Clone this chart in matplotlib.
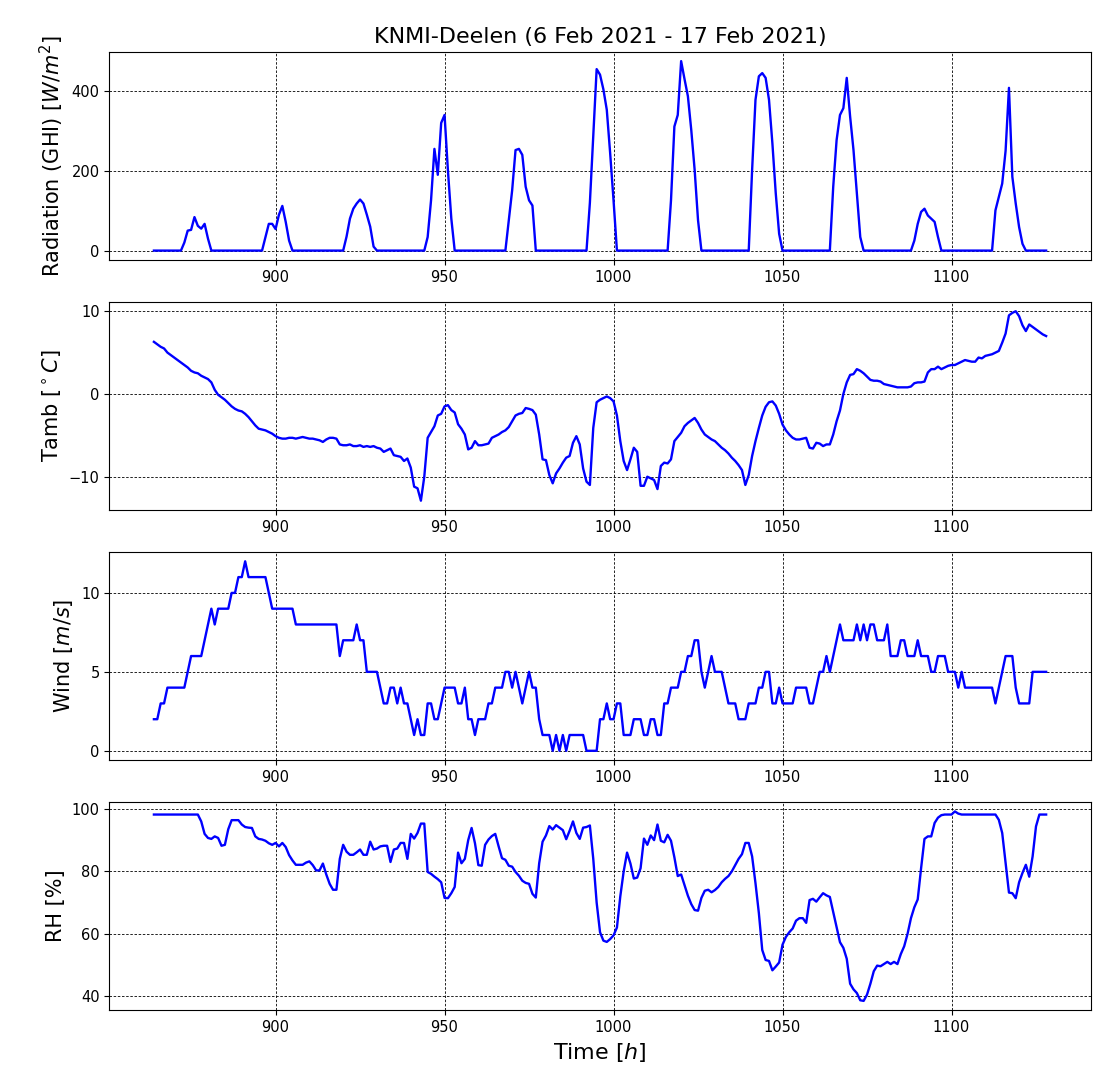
import numpy as np
import matplotlib
matplotlib.use("Agg")
import matplotlib.pyplot as plt
from matplotlib.ticker import MultipleLocator

# hourly KNMI Deelen observations, 6 Feb 2021 00h (hour 864 of the year) to 17 Feb 00h
hours = np.arange(864, 1129)

# global horizontal irradiance [W/m2], one row per day
ghi = [0, 0, 0, 0, 0, 0, 0, 0, 0, 20, 50, 52, 84, 62, 55, 67, 30, 0, 0, 0, 0, 0, 0, 0,
       0, 0, 0, 0, 0, 0, 0, 0, 0, 34, 67, 67, 54, 90, 112, 72, 25, 0, 0, 0, 0, 0, 0, 0,
       0, 0, 0, 0, 0, 0, 0, 0, 0, 35, 80, 105, 118, 128, 118, 90, 60, 10, 0, 0, 0, 0, 0, 0,
       0, 0, 0, 0, 0, 0, 0, 0, 0, 34, 126, 255, 190, 320, 340, 200, 80, 0, 0, 0, 0, 0, 0, 0,
       0, 0, 0, 0, 0, 0, 0, 0, 0, 76, 151, 252, 255, 240, 160, 126, 113, 0, 0, 0, 0, 0, 0, 0,
       0, 0, 0, 0, 0, 0, 0, 0, 0, 120, 290, 455, 441, 404, 353, 244, 126, 0, 0, 0, 0, 0, 0, 0,
       0, 0, 0, 0, 0, 0, 0, 0, 0, 126, 311, 340, 475, 430, 387, 302, 202, 76, 0, 0, 0, 0, 0, 0,
       0, 0, 0, 0, 0, 0, 0, 0, 0, 202, 378, 437, 445, 433, 378, 269, 143, 42, 0, 0, 0, 0, 0, 0,
       0, 0, 0, 0, 0, 0, 0, 0, 0, 160, 277, 340, 357, 433, 336, 252, 143, 34, 0, 0, 0, 0, 0, 0,
       0, 0, 0, 0, 0, 0, 0, 0, 0, 25, 67, 97, 105, 88, 80, 72, 34, 0, 0, 0, 0, 0, 0, 0,
       0, 0, 0, 0, 0, 0, 0, 0, 0, 101, 134, 168, 250, 408, 185, 118, 59, 17, 0, 0, 0, 0, 0, 0,
       0]

# ambient temperature [C]
tamb = [6.3, 6.0, 5.7, 5.5, 5.0, 4.7, 4.4, 4.1, 3.8, 3.5, 3.2, 2.8, 2.6, 2.5, 2.2, 2.0, 1.8, 1.4, 0.5, -0.1, -0.4, -0.7, -1.1, -1.5,
        -1.8, -2.0, -2.1, -2.4, -2.8, -3.3, -3.8, -4.2, -4.3, -4.4, -4.6, -4.8, -5.1, -5.3, -5.4, -5.4, -5.3, -5.3, -5.4, -5.3, -5.2, -5.3, -5.4, -5.4,
        -5.5, -5.6, -5.8, -5.5, -5.3, -5.3, -5.4, -6.1, -6.2, -6.2, -6.1, -6.3, -6.3, -6.2, -6.4, -6.3, -6.4, -6.3, -6.5, -6.6, -7.0, -6.8, -6.6, -7.4,
        -7.5, -7.6, -8.1, -7.8, -8.9, -11.2, -11.4, -12.9, -10.0, -5.3, -4.6, -3.9, -2.6, -2.4, -1.5, -1.35, -1.95, -2.24, -3.66, -4.2, -4.9, -6.7, -6.5, -5.7,
        -6.2, -6.2, -6.1, -6.0, -5.3, -5.1, -4.9, -4.6, -4.4, -4.0, -3.3, -2.6, -2.4, -2.3, -1.7, -1.8, -1.95, -2.5, -4.9, -7.9, -8.0, -9.8, -10.8, -9.6,
        -9.0, -8.3, -7.7, -7.5, -5.9, -5.1, -6.1, -9.0, -10.6, -11.0, -4.1, -1.0, -0.7, -0.5, -0.3, -0.5, -0.9, -2.6, -5.7, -8.1, -9.2, -7.9, -6.5, -7.0,
        -11.1, -11.1, -10.0, -10.2, -10.4, -11.5, -8.7, -8.3, -8.4, -7.9, -5.7, -5.2, -4.7, -3.9, -3.5, -3.2, -2.9, -3.5, -4.3, -4.9, -5.2, -5.5, -5.7, -6.1,
        -6.5, -6.8, -7.2, -7.7, -8.1, -8.6, -9.2, -11.0, -9.8, -7.5, -5.7, -4.1, -2.6, -1.55, -1.0, -0.9, -1.4, -2.4, -3.7, -4.4, -4.9, -5.3, -5.5, -5.5,
        -5.4, -5.3, -6.5, -6.6, -5.9, -6.0, -6.3, -6.1, -6.1, -4.9, -3.3, -2.0, 0.0, 1.4, 2.3, 2.4, 3.0, 2.8, 2.5, 2.1, 1.7, 1.6, 1.6, 1.5,
        1.2, 1.1, 1.0, 0.9, 0.8, 0.8, 0.8, 0.8, 0.9, 1.3, 1.4, 1.4, 1.5, 2.6, 3.0, 3.0, 3.3, 3.0, 3.2, 3.4, 3.5, 3.5, 3.7, 3.9,
        4.1, 4.0, 3.9, 3.9, 4.4, 4.3, 4.6, 4.7, 4.8, 5.0, 5.2, 6.2, 7.3, 9.5, 9.8, 10.0, 9.4, 8.3, 7.6, 8.4, 8.1, 7.8, 7.5, 7.2,
        7.0]

# wind speed [m/s]
wind = [2, 2, 3, 3, 4, 4, 4, 4, 4, 4, 5, 6, 6, 6, 6, 7, 8, 9, 8, 9, 9, 9, 9, 10,
        10, 11, 11, 12, 11, 11, 11, 11, 11, 11, 10, 9, 9, 9, 9, 9, 9, 9, 8, 8, 8, 8, 8, 8,
        8, 8, 8, 8, 8, 8, 8, 6, 7, 7, 7, 7, 8, 7, 7, 5, 5, 5, 5, 4, 3, 3, 4, 4,
        3, 4, 3, 3, 2, 1, 2, 1, 1, 3, 3, 2, 2, 3, 4, 4, 4, 4, 3, 3, 4, 2, 2, 1,
        2, 2, 2, 3, 3, 4, 4, 4, 5, 5, 4, 5, 4, 3, 4, 5, 4, 4, 2, 1, 1, 1, 0, 1,
        0, 1, 0, 1, 1, 1, 1, 1, 0, 0, 0, 0, 2, 2, 3, 2, 2, 3, 3, 1, 1, 1, 2, 2,
        2, 1, 1, 2, 2, 1, 1, 3, 3, 4, 4, 4, 5, 5, 6, 6, 7, 7, 5, 4, 5, 6, 5, 5,
        5, 4, 3, 3, 3, 2, 2, 2, 3, 3, 3, 4, 4, 5, 5, 3, 3, 4, 3, 3, 3, 3, 4, 4,
        4, 4, 3, 3, 4, 5, 5, 6, 5, 6, 7, 8, 7, 7, 7, 7, 8, 7, 8, 7, 8, 8, 7, 7,
        7, 8, 6, 6, 6, 7, 7, 6, 6, 6, 7, 6, 6, 6, 5, 5, 6, 6, 6, 5, 5, 5, 4, 5,
        4, 4, 4, 4, 4, 4, 4, 4, 4, 3, 4, 5, 6, 6, 6, 4, 3, 3, 3, 3, 5, 5, 5, 5,
        5]

# relative humidity [%]
rh = [98.2, 98.2, 98.2, 98.2, 98.2, 98.2, 98.2, 98.2, 98.2, 98.2, 98.2, 98.2, 98.2, 98.2, 96.0, 92.0, 90.7, 90.4, 91.2, 90.7, 88.2, 88.5, 93.5, 96.4,
      96.4, 96.4, 95.0, 94.2, 94.0, 93.9, 91.2, 90.4, 90.2, 89.8, 89.0, 88.5, 89.1, 88.0, 89.1, 87.8, 85.2, 83.5, 82.1, 82.1, 82.1, 82.8, 83.2, 82.0,
      80.3, 80.3, 82.5, 79.0, 76.0, 74.1, 74.1, 84.0, 88.5, 86.3, 85.3, 85.3, 86.1, 87.0, 85.3, 85.3, 89.5, 87.0, 87.3, 88.0, 88.2, 88.2, 83.0, 87.0,
      87.3, 89.1, 89.1, 84.0, 92.0, 90.5, 92.3, 95.3, 95.3, 79.8, 79.2, 78.3, 77.5, 76.5, 71.5, 71.4, 73.0, 75.0, 86.0, 82.6, 84.0, 90.0, 93.9, 89.0,
      82.0, 81.8, 88.5, 90.2, 91.3, 92.0, 88.0, 84.2, 83.7, 81.8, 81.5, 79.8, 78.6, 77.0, 76.3, 76.0, 72.8, 71.6, 82.6, 89.5, 91.5, 94.5, 93.4, 94.8,
      94.0, 93.2, 90.3, 93.0, 96.0, 92.3, 90.4, 94.0, 94.2, 94.7, 84.0, 70.0, 60.5, 57.8, 57.4, 58.3, 59.5, 62.0, 72.0, 80.0, 86.0, 82.5, 77.7, 78.0,
      81.0, 90.5, 88.5, 91.5, 90.0, 95.0, 89.8, 89.3, 91.7, 89.8, 84.5, 78.5, 79.0, 75.6, 72.2, 69.5, 67.6, 67.4, 71.5, 73.8, 74.1, 73.3, 74.0, 75.0,
      76.5, 77.6, 78.5, 80.0, 82.0, 84.0, 85.5, 89.1, 89.1, 84.8, 76.2, 66.6, 54.8, 51.6, 51.3, 48.3, 49.5, 50.8, 56.5, 59.0, 60.5, 61.7, 64.2, 65.0,
      65.0, 63.5, 70.8, 71.2, 70.3, 71.7, 73.0, 72.3, 71.8, 67.0, 62.3, 57.3, 55.5, 52.0, 44.0, 42.2, 41.0, 38.7, 38.5, 40.5, 44.0, 48.0, 49.8, 49.6,
      50.3, 51.0, 50.3, 51.0, 50.3, 53.5, 56.0, 60.0, 65.0, 68.5, 71.0, 81.0, 90.4, 91.2, 91.2, 95.5, 97.2, 98.0, 98.2, 98.2, 98.2, 99.2, 98.5, 98.2,
      98.2, 98.2, 98.2, 98.2, 98.2, 98.2, 98.2, 98.2, 98.2, 98.2, 96.5, 92.3, 82.6, 73.2, 73.0, 71.4, 76.5, 79.5, 82.1, 78.3, 84.8, 94.4, 98.2, 98.2,
      98.2]

ylabels = [r"Radiation (GHI) [$W/m^2$]", r"Tamb [$^\circ C$]", r"Wind [$m/s$]", "RH [%]"]
ystep = [200, 10, 5, 20]  # y tick spacing per panel
title = "KNMI-Deelen (6 Feb 2021 - 17 Feb 2021)"


def plot_weather(series, labels):
    fig, axes = plt.subplots(4, 1, figsize=(11.04, 10.76), dpi=100)
    fig.subplots_adjust(left=0.099, right=0.988, top=0.952, bottom=0.061, hspace=0.2)

    for ax, y, lab, step in zip(axes, series, labels, ystep):
        ax.plot(hours, y, color="b", linewidth=1.7)
        ax.set_ylabel(lab, fontsize=15)
        ax.yaxis.set_major_locator(MultipleLocator(step))
        ax.grid(True, color="black", linestyle=(0, (3, 2)), linewidth=0.6)
        ax.tick_params(labelsize=10.5)

    axes[0].set_title(title, fontsize=16)
    axes[-1].set_xlabel(r"Time [$h$]", fontsize=16)
    return fig


if __name__ == "__main__":
    fig = plot_weather([ghi, tamb, wind, rh], ylabels)
    fig.savefig("out.png", dpi=100)
